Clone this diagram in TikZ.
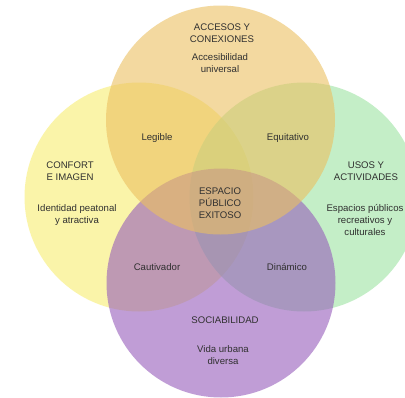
\documentclass[tikz,border=0pt]{standalone}
\usepackage{fontspec}
\setmainfont{Liberation Sans}
\definecolor{cyel}{HTML}{F8EE71}
\definecolor{cgrn}{HTML}{9DE4A3}
\definecolor{cpur}{HTML}{965DBB}
\definecolor{corg}{HTML}{EBC061}
\definecolor{ctxt}{HTML}{303030}
\tikzset{
  petal/.style={fill opacity=0.6, draw=none},
  lbl/.style={align=center, text=ctxt, inner sep=0pt, font=\fontsize{9.6}{12}\selectfont},
}
\begin{document}
\begin{tikzpicture}[x=1pt,y=-1pt]
\useasboundingbox (0,0) rectangle (405,397);
\clip (0,0) rectangle (405,397);
\fill[white] (0,0) rectangle (405,397);
\fill[cyel,petal] (139,197) circle (114.5);
\fill[cgrn,petal] (304,197) circle (114.5);
\fill[cpur,petal] (221,283) circle (114.5);
\fill[corg,petal] (220.5,120) circle (114.5);
\node[lbl] (acc) at (222,33.5) {ACCESOS Y\\CONEXIONES};
\node[lbl] (accd) at (220,63) {Accesibilidad\\universal};
\node[lbl] (leg) at (157,138) {Legible};
\node[lbl] (equ) at (288,138) {Equitativo};
\node[lbl] (con) at (70,171) {CONFORT\\E IMAGEN};
\node[lbl] (cond) at (77,215) {Identidad peatonal\\y atractiva};
\node[lbl] (uso) at (366,171) {USOS Y\\ACTIVIDADES};
\node[lbl] (usod) at (365,220.5) {Espacios públicos\\recreativos y\\culturales};
\node[lbl] (esp) at (220,203) {ESPACIO\\PÚBLICO\\EXITOSO};
\node[lbl] (cau) at (157,267) {Cautivador};
\node[lbl] (din) at (287,267) {Dinámico};
\node[lbl] (soc) at (225,320) {SOCIABILIDAD};
\node[lbl] (socd) at (223,355) {Vida urbana\\diversa};
\end{tikzpicture}
\end{document}
